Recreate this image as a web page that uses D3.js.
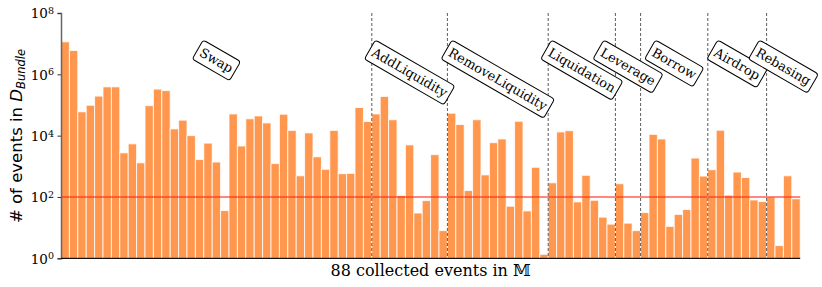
<!DOCTYPE html>
<html lang="en">
<head>
    <title>Events per bundle</title>
    <script src="https://d3js.org/d3.v7.min.js"></script>
    <style>
        body { margin: 0; background: #fff; }
    </style>
</head>
<body>

<script>
    // event categories and how many of the 88 events fall in each one
    const categories = ["Swap", "AddLiquidity", "RemoveLiquidity", "Liquidation",
        "Leverage", "Borrow", "Airdrop", "Rebasing"];
    const groupSizes = [37, 9, 12, 8, 3, 8, 7, 4];

    // number of events per collected event type
    const counts = [
        11500000, 6000000, 60000, 98000, 195000, 390000, 390000, 2750, 5400, 1300,
        95000, 330000, 295000, 16600, 32000, 10000, 1660, 5700, 1380, 36,
        51000, 4600, 35500, 44000, 26000, 1230, 50000, 14800, 490, 12300,
        2040, 800, 14800, 575, 590, 83000, 29000,
        51000, 190000, 33000, 112, 5000, 30, 76, 2400, 8,
        54000, 23000, 162, 33000, 525, 5900, 7800, 50, 29500, 35, 930, 1.35,
        290, 13200, 14500, 69, 510, 78, 22, 13,
        270, 14, 8,
        31, 11000, 7800, 11, 27, 39, 1860, 480,
        775, 15000, 115, 650, 430, 80, 71,
        100, 2.6, 490, 87
    ];
    const threshold = 100;
    const yTicks = [1, 1e2, 1e4, 1e6, 1e8];

    const width = 822, height = 287;
    const mLeft = 61, mRight = 800.2, mTop = 13, mBottom = 258.3;

    const svg = d3.select("body").append("svg")
            .attr("width", width).attr("height", height);

    const x = d3.scaleBand()
            .domain(d3.range(counts.length))
            .range([mLeft, mRight])
            .padding(0);

    const y = d3.scaleLog()
            .domain([1, 1e8])
            .range([mBottom, mTop]);

    // bars
    svg.append("g")
            .selectAll("rect")
            .data(counts).enter()
            .append("rect")
            .attr("x", (d, i) => x(i))
            .attr("width", x.bandwidth())
            .attr("y", d => y(d))
            .attr("height", d => y(1) - y(d))
            .attr("fill", "#ff974f")
            .attr("stroke", "#fff")
            .attr("stroke-opacity", 0.8)
            .attr("stroke-width", 1);

    // group boundaries
    const starts = [];
    let acc = 0;
    groupSizes.forEach(n => { starts.push(acc); acc += n; });

    svg.append("g")
            .selectAll("line")
            .data(starts.slice(1)).enter()
            .append("line")
            .attr("x1", d => x(d)).attr("x2", d => x(d))
            .attr("y1", y(1e8)).attr("y2", y(1))
            .attr("stroke", "#333")
            .attr("stroke-opacity", 0.8)
            .attr("stroke-width", 1)
            .attr("stroke-dasharray", "3,2");

    // threshold line
    svg.append("line")
            .attr("x1", mLeft).attr("x2", mRight)
            .attr("y1", y(threshold)).attr("y2", y(threshold))
            .attr("stroke", "#ff2a1a")
            .attr("stroke-opacity", 0.75)
            .attr("stroke-width", 1.5);

    // axes
    const yAxis = svg.append("g")
            .attr("transform", `translate(${mLeft},0)`)
            .call(d3.axisLeft(y).tickValues(yTicks).tickSize(3.5).tickPadding(4).tickFormat(""));
    yAxis.select(".domain").attr("stroke", "#666").attr("stroke-width", 1.5);
    yAxis.selectAll(".tick line").attr("stroke", "#333");
    yAxis.selectAll(".tick").append("text")
            .attr("x", -7)
            .attr("dy", "0.36em")
            .attr("text-anchor", "end")
            .attr("fill", "#000")
            .style("font-family", "DejaVu Serif")
            .style("font-size", "13.5px")
            .each(function (d) {
                const t = d3.select(this);
                t.append("tspan").text("10");
                t.append("tspan").attr("dy", "-0.45em").style("font-size", "9.5px")
                        .text(Math.round(Math.log10(d)));
            });

    svg.append("line")
            .attr("x1", mLeft).attr("x2", mRight)
            .attr("y1", mBottom).attr("y2", mBottom)
            .attr("stroke", "#111")
            .attr("stroke-width", 1.3);

    // category labels
    const labelTop = 40, pad = 3.5, angle = 30;
    const rad = angle * Math.PI / 180;
    categories.forEach((name, k) => {
        const cx = x(starts[k]) + groupSizes[k] * x.bandwidth() / 2;
        const g = svg.append("g");
        const t = g.append("text")
                .attr("text-anchor", "middle")
                .attr("dy", "0.35em")
                .style("font-family", "DejaVu Serif")
                .style("font-size", "13px")
                .text(name);
        const w = t.node().getComputedTextLength() + 2 * pad;
        const h = 15 + 2 * pad;
        g.insert("rect", "text")
                .attr("x", -w / 2).attr("y", -h / 2)
                .attr("width", w).attr("height", h)
                .attr("rx", 3).attr("ry", 3)
                .attr("fill", "#fff")
                .attr("stroke", "#000")
                .attr("stroke-width", 1);
        const cy = labelTop + (w / 2) * Math.sin(rad) + (h / 2) * Math.cos(rad);
        g.attr("transform", `translate(${cx},${cy}) rotate(${angle})`);
    });

    // axis titles
    svg.append("text")
            .attr("x", (mLeft + mRight) / 2)
            .attr("y", 276)
            .attr("text-anchor", "middle")
            .style("font-family", "DejaVu Serif")
            .style("font-size", "16px")
            .text("88 collected events in \u{1D544}");

    const yl = svg.append("text")
            .attr("transform", "translate(22,136) rotate(-90)")
            .attr("text-anchor", "middle")
            .style("font-family", "DejaVu Sans")
            .style("font-size", "16.5px");
    yl.append("tspan").text("# of events in ");
    yl.append("tspan").style("font-style", "italic").text("D");
    yl.append("tspan").attr("dy", "0.3em").style("font-style", "italic")
            .style("font-size", "11.5px").text("Bundle");
</script>

</body>
</html>
